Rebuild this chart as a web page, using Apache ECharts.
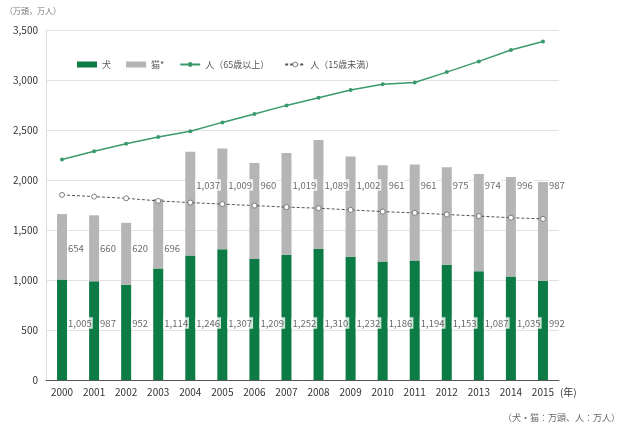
<!DOCTYPE html>
<html><head><meta charset="utf-8">
<script src="https://cdn.jsdelivr.net/npm/echarts@6/dist/echarts.min.js"></script>
<style>html,body{margin:0;padding:0;background:#fff}#c{width:640px;height:428px}</style>
</head><body><div id="c"></div>
<script>
const years = ['2000','2001','2002','2003','2004','2005','2006','2007','2008','2009','2010','2011','2012','2013','2014','2015'];
const dogs = [1005,987,952,1114,1246,1307,1209,1252,1310,1232,1186,1194,1153,1087,1035,992];
const cats = [654,660,620,696,1037,1009,960,1019,1089,1002,961,961,975,974,996,987];
const elderly = [2204,2287,2363,2431,2488,2576,2660,2746,2822,2901,2958,2975,3079,3186,3300,3384];
const children = [1851,1834,1817,1791,1774,1759,1744,1729,1718,1701,1684,1671,1655,1639,1623,1611];

const dogLabelY = 570;
const catLabelY = years.map((y,i)=> i<4 ? 1320 : 1950);
const fmt = v => v.toLocaleString('en-US');
const font = '"Noto Sans CJK JP","Noto Sans",sans-serif';

const chart = echarts.init(document.getElementById('c'));
chart.setOption({
  animation:false,
  textStyle:{fontFamily:font},
  grid:{left:46,right:81,top:30,bottom:48},
  legend:{
    left:72, top:55, itemWidth:20, itemHeight:6, itemGap:15,
    textStyle:{fontSize:9,color:'#555',fontFamily:font},
    data:[{name:'犬',icon:'rect'},{name:'猫*',icon:'rect'},'人（65歳以上）',
      {name:'人（15歳未満）',itemStyle:{borderWidth:0.8,borderColor:'#666',color:'#fff'}}]
  },
  graphic:[
    {type:'text',left:5,top:7,style:{text:'（万頭，万人）',fontSize:8,fill:'#777',fontFamily:font}},
    {type:'text',left:503,top:413,style:{text:'（犬・猫：万頭、人：万人）',fontSize:9,fill:'#666',fontFamily:font}}
  ],
  xAxis:{
    type:'category', data:years,
    axisLine:{lineStyle:{color:'#555'}},
    axisTick:{inside:true,length:4,lineStyle:{color:'#555'}},
    axisLabel:{color:'#333',fontSize:10,margin:7},
    name:'(年)', nameLocation:'end', nameGap:-4,
    nameTextStyle:{fontSize:10,color:'#333',verticalAlign:'top',padding:[7,0,0,0]}
  },
  yAxis:{
    type:'value', min:0, max:3500, interval:500,
    axisLine:{show:true,lineStyle:{color:'#ddd'}},
    axisTick:{show:false},
    axisLabel:{color:'#333',fontSize:10,margin:8,formatter:v=>fmt(v)},
    splitLine:{lineStyle:{color:'#e2e2e2'}}
  },
  series:[
    {name:'犬',type:'bar',stack:'a',barWidth:10,data:dogs,itemStyle:{color:'#0d7b45'}},
    {name:'猫*',type:'bar',stack:'a',barWidth:10,data:cats,itemStyle:{color:'#b5b5b5'}},
    {name:'人（65歳以上）',type:'line',data:elderly,symbol:'circle',symbolSize:4,
     lineStyle:{color:'#3a9a6c',width:1.5},itemStyle:{color:'#3a9a6c'}},
    {name:'人（15歳未満）',type:'line',data:children,symbol:'circle',symbolSize:5,
     lineStyle:{color:'#555',width:1,type:[3,2]},itemStyle:{color:'#fff',borderColor:'#666',borderWidth:0.8}},
    {type:'scatter',symbolSize:0,silent:true,data:dogs.map((v,i)=>[i,dogLabelY]),
     label:{show:true,position:'right',distance:5,fontSize:9.5,color:'#444',
       backgroundColor:'#fff',padding:[1,1],formatter:p=>fmt(dogs[p.dataIndex])}},
    {type:'scatter',symbolSize:0,silent:true,data:cats.map((v,i)=>[i,catLabelY[i]]),
     label:{show:true,position:'right',distance:5,fontSize:9.5,color:'#444',
       backgroundColor:'#fff',padding:[1,1],formatter:p=>fmt(cats[p.dataIndex])}}
  ]
});
</script></body></html>
